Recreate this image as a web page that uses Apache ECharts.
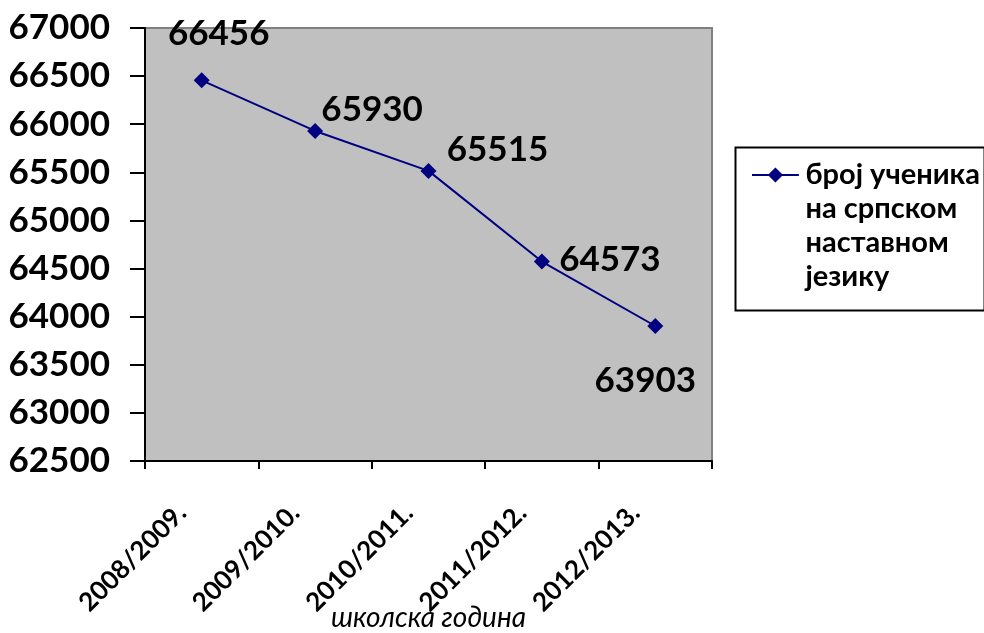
<!DOCTYPE html>
<html><head><meta charset="utf-8">
<script src="https://cdn.jsdelivr.net/npm/echarts@6/dist/echarts.min.js"></script>
<style>html,body{margin:0;padding:0;background:#fff}#c{width:984px;height:633px}</style>
</head><body><div id="c"></div>
<script>
var categories = ['2008/2009.', '2009/2010.', '2010/2011.', '2011/2012.', '2012/2013.'];
var values = [66456, 65930, 65515, 64573, 63903];
var seriesName = 'број ученика\nна српском\nнаставном\nјезику';
var xAxisName = 'школска година';
var yMin = 62500, yMax = 67000, yStep = 500;

var labelOffsets = [[17, -47], [57, -21], [69, -21], [68, -2], [-10, 55]];
var FONT = 'Lato';
var LH = 34;

var chart = echarts.init(document.getElementById('c'));
chart.setOption({
  backgroundColor: '#fff',
  animation: false,
  grid: { left: 145, right: 272, top: 28, bottom: 172, containLabel: false, outerBoundsMode: 'none', show: true, backgroundColor: '#C0C0C0', borderColor: '#808080', borderWidth: 2 },
  graphic: [{
    type: 'rect', left: 733, top: 145, z: 1,
    shape: { width: 249, height: 163 },
    style: { fill: 'none', stroke: '#000', lineWidth: 2 }
  }],
  legend: {
    left: 752, top: 175 - 3.5 * LH,
    orient: 'vertical',
    padding: 0,
    itemWidth: 50, itemHeight: 15,
    itemGap: 0,
    formatter: function (n) { return '\n\n\n' + n; },
    textStyle: { fontFamily: FONT, fontWeight: 'bold', fontSize: 29, color: '#000', lineHeight: LH },
    data: [{ name: seriesName, icon: 'path://M0,6h18l7,-7l7,7h18v2h-18l-7,7l-7,-7h-18z' }]
  },
  xAxis: {
    type: 'category', data: categories, boundaryGap: true,
    name: xAxisName, nameLocation: 'middle', nameGap: 143, nameMoveOverlap: false,
    nameTextStyle: { fontFamily: FONT, fontStyle: 'italic', fontSize: 28, color: '#000' },
    axisLine: { lineStyle: { color: '#000', width: 2 } },
    axisTick: { show: true, length: 8, alignWithLabel: false, lineStyle: { color: '#000', width: 2 } },
    axisLabel: { rotate: 45, margin: 28, padding: [0, 28, 0, 0], fontFamily: FONT, fontWeight: 'bold', fontSize: 26, color: '#000', interval: 0 },
    splitLine: { show: false }
  },
  yAxis: {
    type: 'value', min: yMin, max: yMax, interval: yStep,
    axisLine: { show: true, lineStyle: { color: '#000', width: 2 } },
    axisTick: { show: true, length: 15, lineStyle: { color: '#000', width: 2 } },
    axisLabel: { margin: 35, fontFamily: FONT, fontWeight: 'bold', fontSize: 35, color: '#000', formatter: function (v) { return String(v); } },
    splitLine: { show: false }
  },
  series: [{
    name: seriesName, type: 'line',
    data: values.map(function (v, i) {
      return { value: v, label: { offset: labelOffsets[i] } };
    }),
    symbol: 'diamond', symbolSize: 16,
    itemStyle: { color: '#000080' },
    lineStyle: { color: '#000080', width: 2 },
    label: { show: true, position: 'inside', fontFamily: FONT, fontWeight: 'bold', fontSize: 35, color: '#000' }
  }]
});
</script></body></html>
